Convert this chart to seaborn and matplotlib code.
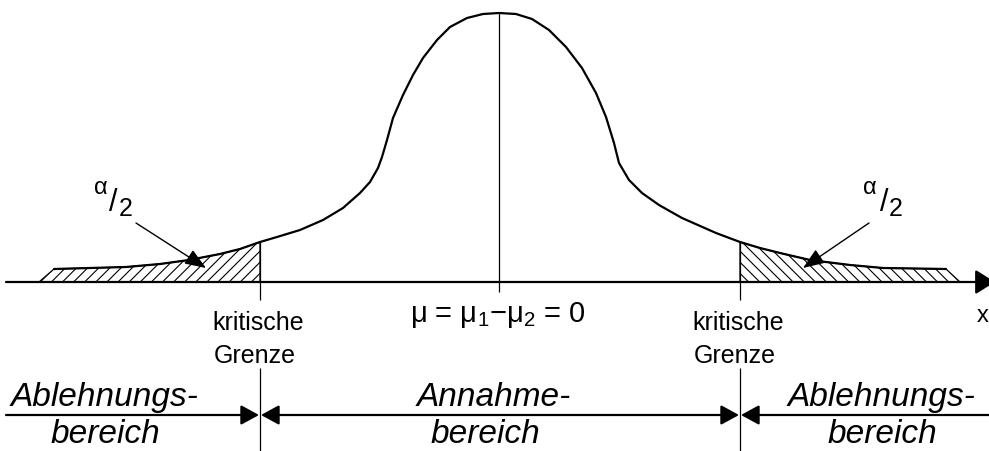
"""
Zweiseitiger Test: Annahme- und Ablehnungsbereich unter der Normalverteilung.
"""
import matplotlib
matplotlib.use("Agg")
import matplotlib.pyplot as plt
import seaborn as sns
import pandas as pd

# curve: x position and height above the x axis
curve_x = [54, 90, 126, 160, 189, 220, 240, 260, 277, 300, 323, 343, 360, 370,
           378, 382, 387, 393, 403, 413, 423, 437, 450, 467, 483, 499,
           516, 532, 549, 566, 582, 596, 606, 614, 619, 629, 642, 659, 682,
           716, 740, 760, 780, 810, 850, 883, 946]
curve_h = [13, 14, 15, 18, 22, 28, 33, 40, 45, 52, 62, 74, 89, 100,
           114, 125, 142, 164, 187, 207, 224, 242, 255, 264, 268, 269,
           268, 263, 252, 235, 214, 189, 165, 139, 119, 102, 89, 77, 64,
           49, 40, 34, 29, 22, 17, 14, 13]

center_x = 499
crit_left = 260
crit_right = 740
tail_left_start = 39
tail_right_end = 960

crit_label = ["kritische", "Grenze"]
region_left = ["Ablehnungs-", "bereich"]
region_mid = ["Annahme-", "bereich"]
region_right = ["Ablehnungs-", "bereich"]
mu_label = r"μ = $\mathregular{\mu_1{-}\mu_2}$ = 0"

sns.set_theme(style="white")
plt.rcParams["font.family"] = ["Liberation Sans", "DejaVu Sans"]
plt.rcParams["text.color"] = "black"
plt.rcParams["hatch.linewidth"] = 0.8

fig = plt.figure(figsize=(9.89, 4.51), dpi=100)
ax = fig.add_axes([0, 0, 1, 1])
ax.set_xlim(0, 989)
ax.set_ylim(-169, 282)
ax.set_axis_off()

df = pd.DataFrame({"x": curve_x, "h": curve_h})

# hatched tails
left = df[df["x"] <= crit_left]
lx = [tail_left_start] + left["x"].tolist() + [crit_left]
ly = [0] + left["h"].tolist() + [0]
ax.fill(lx, ly, facecolor="none", edgecolor="black", hatch="///", lw=0.9)

right = df[df["x"] >= crit_right]
rx = [crit_right] + right["x"].tolist() + [tail_right_end]
ry = [0] + right["h"].tolist() + [0]
ax.fill(rx, ry, facecolor="none", edgecolor="black", hatch="\\\\\\", lw=0.9)

# density curve
sns.lineplot(data=df, x="x", y="h", ax=ax, color="black", lw=1.6, sort=False)

# vertical markers
peak = df["h"].max()
ax.vlines(center_x, -10, peak, color="black", lw=0.9)
h_left = left["h"].iloc[-1]
h_right = right["h"].iloc[0]
ax.vlines(crit_left, -18, h_left, color="black", lw=0.9)
ax.vlines(crit_right, -18, h_right, color="black", lw=0.9)
ax.vlines([crit_left, crit_right], -169, -86, color="black", lw=0.9)

# x axis with arrow
ax.annotate("", xy=(995, 0), xytext=(6, 0), annotation_clip=False,
            arrowprops=dict(arrowstyle="-|>,head_length=1.2,head_width=0.75",
                            mutation_scale=10, lw=1.6, color="black",
                            shrinkA=0, shrinkB=0))
ax.text(977, -40, "x", fontsize=17, ha="left", va="baseline")

# labels below the axis
for cx in (crit_left, crit_right):
    ax.text(cx - 2, -48, crit_label[0], fontsize=18, ha="center", va="baseline")
    ax.text(cx - 5, -81, crit_label[1], fontsize=18, ha="center", va="baseline")
ax.text(498, -40, mu_label, fontsize=21, ha="center", va="baseline")

# alpha/2 labels with arrows
for (ax_, sx, nx, tx, hx) in [(101, 113, 126, 136, 206), (870, 884, 896, 869, 803)]:
    ax.text(ax_, 282 - 188, "α", fontsize=17, ha="center", va="center")
    ax.text(sx, 282 - 203, "/", fontsize=22, ha="center", va="center")
    ax.text(nx, 282 - 209, "2", fontsize=18, ha="center", va="center")
    ax.annotate("", xy=(hx, 14), xytext=(tx, 59),
                arrowprops=dict(arrowstyle="-|>,head_length=1.3,head_width=0.5",
                                mutation_scale=10, lw=1.0, color="black",
                                shrinkA=0, shrinkB=0))

# region arrows at the bottom
arrow_y = -133
head = "head_length=1.1,head_width=0.6"
ax.annotate("", xy=(crit_left - 1, arrow_y), xytext=(6, arrow_y),
            arrowprops=dict(arrowstyle="-|>," + head, mutation_scale=10, lw=1.6,
                            color="black", shrinkA=0, shrinkB=0))
ax.annotate("", xy=(crit_right - 1, arrow_y), xytext=(crit_left + 1, arrow_y),
            arrowprops=dict(arrowstyle="<|-|>," + head, mutation_scale=10, lw=1.6,
                            color="black", shrinkA=0, shrinkB=0))
ax.annotate("", xy=(crit_right + 1, arrow_y), xytext=(989, arrow_y),
            annotation_clip=False,
            arrowprops=dict(arrowstyle="-|>," + head, mutation_scale=10, lw=1.6,
                            color="black", shrinkA=0, shrinkB=0))

for cx, lines in [(105, region_left), (494, region_mid), (882, region_right)]:
    ax.text(cx, -124, lines[0], fontsize=24, style="italic", ha="center", va="baseline")
    ax.text(cx - (9 if lines is region_mid else 0), -161, lines[1], fontsize=24,
            style="italic", ha="center", va="baseline")

fig.savefig("out.png", dpi=100)
